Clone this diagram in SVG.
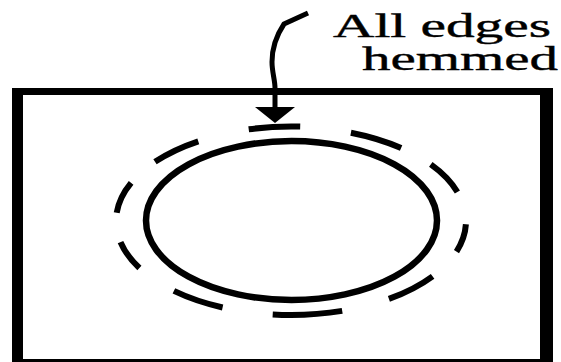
<svg xmlns="http://www.w3.org/2000/svg" width="561" height="362" viewBox="0 0 561 362">
<style>
.frame{fill:#000}
.hem{fill:none;stroke:#000;stroke-width:6;stroke-linecap:butt}
.edge{fill:none;stroke:#000;stroke-width:6.5}
.lbl{font-family:"Liberation Serif","Times New Roman",serif;font-size:34px;fill:#000;stroke:#000;stroke-width:0.4}
</style>
<rect width="561" height="362" fill="#fff"/>
<g id="frame">
<rect class="frame" x="12" y="88" width="541" height="7"/>
<rect class="frame" x="12" y="88" width="11" height="274"/>
<rect class="frame" x="540" y="88" width="13" height="274"/>
<rect class="frame" x="12" y="359" width="541" height="4"/>
</g>
<g id="piece">
<ellipse class="edge" cx="291.5" cy="220.5" rx="145.5" ry="79.5"/>
</g>
<g id="hem-stitches">
<path class="hem" d="M248.7,129.3 A175 94 0 0 1 300.2,126.6"/>
<path class="hem" d="M350.9,132.7 A175 94 0 0 1 401.1,148"/>
<path class="hem" d="M430.8,164.4 A175 94 0 0 1 457.4,192"/>
<path class="hem" d="M465.9,224.3 A175 94 0 0 1 456.5,251.6"/>
<path class="hem" d="M432.6,276.3 A175 94 0 0 1 388.9,298.9"/>
<path class="hem" d="M342.2,310.9 A175 94 0 0 1 272.7,314.5"/>
<path class="hem" d="M222.6,307.5 A175 94 0 0 1 173.9,290.9"/>
<path class="hem" d="M139.4,268 A175 94 0 0 1 120.5,242.1"/>
<path class="hem" d="M116.7,212.8 A175 94 0 0 1 131.1,182.8"/>
<path class="hem" d="M155,161.8 A175 94 0 0 1 198.3,141.3"/>
</g>
<g id="connectors">
<path d="M308,13 L284,24 C276,36 272,50 272,62 C272,72 275,80 275,88 L275,108" fill="none" stroke="#000" stroke-width="5"/>
<polygon points="255,107 295,107 275,123" fill="#000"/>
</g>
<g id="label">
<text class="lbl" x="333" y="37" textLength="218" lengthAdjust="spacingAndGlyphs">All edges</text>
<text class="lbl" x="362" y="70" textLength="196" lengthAdjust="spacingAndGlyphs">hemmed</text>
</g>
</svg>
